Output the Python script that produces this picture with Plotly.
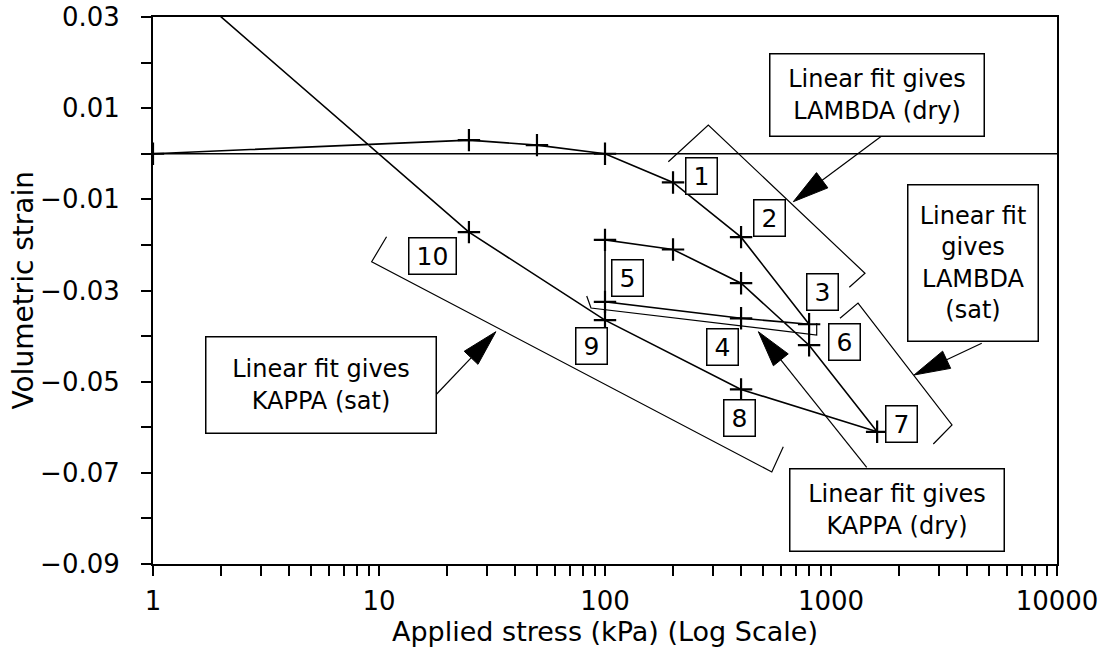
import math
import plotly.graph_objects as go

# ---------------- data ----------------
stress_kpa = [1, 25, 50, 100, 200, 400, 800, 400, 100, 100, 200, 400, 800, 1600, 400, 100, 25, 1]
vol_strain = [0.0, 0.0030, 0.0019, 0.0, -0.0063, -0.0183, -0.0374, -0.0361, -0.0325,
              -0.0189, -0.0210, -0.0284, -0.0420, -0.0610, -0.0517, -0.0365, -0.0172, 0.043]

# horizontal reference line at zero strain
ref_x = [1, 10000]
ref_y = [0.0, 0.0]

# fit brackets (stress kPa, strain)
lam_dry_x = [190.6, 286.5, 1414, 1205]
lam_dry_y = [-0.00175, 0.00631, -0.02623, -0.0293]
lam_sat_x = [1096, 1317, 3431, 2836]
lam_sat_y = [-0.0361, -0.03275, -0.0595, -0.06368]
kap_dry_x = [83.0, 86.7, 864.5, 864.5]
kap_dry_y = [-0.03121, -0.03384, -0.03977, -0.03714]
kap_sat_x = [10.8, 9.28, 547, 615]
kap_sat_y = [-0.0182, -0.0237, -0.0698, -0.0643]

# step labels 1..10 (stress kPa, strain)
step_text = ["1", "2", "3", "4", "5", "6", "7", "8", "9", "10"]
step_x = [266, 532, 912.6, 329.5, 126.4, 1147, 2051, 393.7, 87.3, 17.3]
step_y = [-0.00488, -0.0141, -0.0303, -0.0424, -0.0273, -0.0414, -0.0593, -0.058, -0.0422, -0.0224]

# note boxes
note_text = ["Linear fit gives<br>LAMBDA (dry)",
             "Linear fit<br>gives<br>LAMBDA<br>(sat)",
             "Linear fit gives<br>KAPPA (sat)",
             "Linear fit gives<br>KAPPA (dry)"]
note_x = [1595, 4250, 5.51, 1968]
note_y = [0.01295, -0.02404, -0.05074, -0.07816]
note_w = [213, 129, 229, 213]
note_h = [81, 155, 95, 81]

# arrows: tail (x, y) -> tip (x, y)
arrow_tail_x = [1676, 4645, 18.0, 1439]
arrow_tail_y = [0.00389, -0.04159, -0.05271, -0.06879]
arrow_tip_x = [681, 2330, 32.9, 477]
arrow_tip_y = [-0.01052, -0.04854, -0.03904, -0.03904]

# axes
x_title = "Applied stress (kPa) (Log Scale)"
y_title = "Volumetric strain"
x_major = [1, 10, 100, 1000, 10000]
x_major_labels = ["1", "10", "100", "1000", "10000"]
y_ticks = [-0.09, -0.08, -0.07, -0.06, -0.05, -0.04, -0.03, -0.02, -0.01, 0.0, 0.01, 0.02, 0.03]
y_labels = ["\u22120.09", "", "\u22120.07", "", "\u22120.05", "", "\u22120.03", "", "\u22120.01", "", "0.01", "", "0.03"]

# ---------------- layout geometry ----------------
W, H = 1108, 652
ML, MR, MT, MB = 153, 51, 17, 88
XR = [0, 4]
YR = [-0.09, 0.03]
PW, PH = W - ML - MR, H - MT - MB
FONT = "DejaVu Sans"


def d2p(x, y):
    return (ML + (math.log10(x) - XR[0]) / (XR[1] - XR[0]) * PW,
            MT + (YR[1] - y) / (YR[1] - YR[0]) * PH)


def p2d(px, py):
    return (10 ** (XR[0] + (px - ML) / PW * (XR[1] - XR[0])),
            YR[1] - (py - MT) / PH * (YR[1] - YR[0]))


# x ticks: decades labelled, 2..9 unlabelled
x_ticks, x_text = [], []
for i, d in enumerate(x_major):
    x_ticks.append(d)
    x_text.append(x_major_labels[i])
    if d < 10000:
        for m in range(2, 10):
            x_ticks.append(d * m)
            x_text.append("")

fig = go.Figure()

fig.add_trace(go.Scatter(x=ref_x, y=ref_y, mode="lines",
                         line=dict(color="black", width=1.5), hoverinfo="skip"))

for bx, by in [(lam_dry_x, lam_dry_y), (lam_sat_x, lam_sat_y),
               (kap_dry_x, kap_dry_y), (kap_sat_x, kap_sat_y)]:
    fig.add_trace(go.Scatter(x=bx, y=by, mode="lines",
                             line=dict(color="black", width=1.2), hoverinfo="skip"))

fig.add_trace(go.Scatter(x=stress_kpa, y=vol_strain, mode="lines+markers",
                         line=dict(color="black", width=1.6),
                         marker=dict(symbol="cross-thin", size=16,
                                     line=dict(color="black", width=2.2))))

# arrows with long filled heads
HEAD_L, HEAD_HW = 36, 9.5
for i in range(len(arrow_tip_x)):
    tx, ty = d2p(arrow_tail_x[i], arrow_tail_y[i])
    hx, hy = d2p(arrow_tip_x[i], arrow_tip_y[i])
    dx, dy = hx - tx, hy - ty
    n = math.hypot(dx, dy)
    ux, uy = dx / n, dy / n
    bx, by = hx - HEAD_L * ux, hy - HEAD_L * uy
    nx, ny = -uy, ux
    base = p2d(bx, by)
    v1 = p2d(bx + HEAD_HW * nx, by + HEAD_HW * ny)
    v2 = p2d(bx - HEAD_HW * nx, by - HEAD_HW * ny)
    fig.add_trace(go.Scatter(x=[arrow_tail_x[i], base[0]], y=[arrow_tail_y[i], base[1]],
                             mode="lines", line=dict(color="black", width=1.2), hoverinfo="skip"))
    fig.add_trace(go.Scatter(x=[arrow_tip_x[i], v1[0], v2[0], arrow_tip_x[i]],
                             y=[arrow_tip_y[i], v1[1], v2[1], arrow_tip_y[i]],
                             mode="lines", fill="toself", fillcolor="black",
                             line=dict(color="black", width=1), hoverinfo="skip"))

annotations = []
for i, t in enumerate(step_text):
    annotations.append(dict(x=math.log10(step_x[i]), y=step_y[i], xref="x", yref="y",
                            text=t, showarrow=False,
                            font=dict(family=FONT, size=25, color="black"),
                            bordercolor="black", borderwidth=1.5, borderpad=0,
                            bgcolor="white", width=46 if len(t) > 1 else 30, height=35))
for i, t in enumerate(note_text):
    annotations.append(dict(x=math.log10(note_x[i]), y=note_y[i], xref="x", yref="y",
                            text=t, showarrow=False,
                            font=dict(family=FONT, size=24, color="black"),
                            bordercolor="black", borderwidth=1.5, borderpad=0,
                            bgcolor="white", width=note_w[i], height=note_h[i]))

# y-axis title placed as a rotated paper annotation (centre ~23 px from the left edge)
annotations.append(dict(x=(23 - ML) / PW, y=0.5, xref="paper", yref="paper",
                        text=y_title, textangle=-90, showarrow=False,
                        xanchor="center", yanchor="middle",
                        font=dict(family=FONT, size=28, color="black")))

fig.update_layout(
    width=W, height=H,
    margin=dict(l=ML, r=MR, t=MT, b=MB, autoexpand=False),
    paper_bgcolor="white", plot_bgcolor="white",
    showlegend=False,
    font=dict(family=FONT, color="black"),
    annotations=annotations,
    xaxis=dict(type="log", range=XR, tickmode="array", tickvals=x_ticks, ticktext=x_text,
               ticks="outside", ticklen=10, tickwidth=1.5, tickcolor="black",
               showline=True, linewidth=2, linecolor="black", mirror=True,
               showgrid=False, zeroline=False, automargin=False,
               ticklabelstandoff=3, ticklabeloverflow="allow",
               tickfont=dict(family=FONT, size=26, color="black"),
               title=dict(text=x_title, standoff=6,
                          font=dict(family=FONT, size=27, color="black"))),
    yaxis=dict(range=YR, tickmode="array", tickvals=y_ticks, ticktext=y_labels,
               ticks="outside", ticklen=10, tickwidth=1.5, tickcolor="black",
               showline=True, linewidth=2, linecolor="black", mirror=True,
               showgrid=False, zeroline=False, automargin=False,
               ticklabelstandoff=16, ticklabeloverflow="allow",
               tickfont=dict(family=FONT, size=26, color="black")),
)

fig.write_html("out.html", config={"displayModeBar": False},
               post_script="document.body.style.margin='0';")
